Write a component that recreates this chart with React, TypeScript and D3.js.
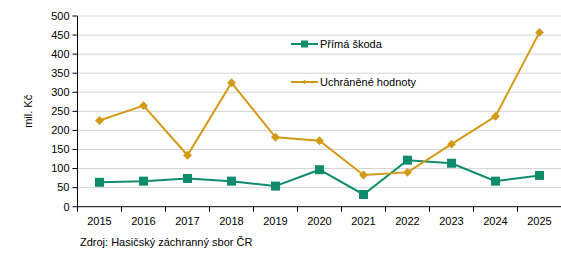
import React from "react";
import * as d3 from "d3";

const years = ["2015","2016","2017","2018","2019","2020","2021","2022","2023","2024","2025"];
const primaSkoda = [64, 67, 74, 67, 54, 97, 32, 122, 114, 67, 82];
const uchranene = [226, 265, 135, 325, 182, 173, 83, 90, 164, 237, 457];
const yTicks = [0, 50, 100, 150, 200, 250, 300, 350, 400, 450, 500];
const seriesNames = ["Přímá škoda", "Uchráněné hodnoty"];

const GREEN = "#0f8c6c";
const GOLD = "#d39a17";
const FONT = "'Liberation Sans', Arial, sans-serif";

export default function App() {
  const W = 561, H = 270;
  const left = 77.5, right = 561.5, top = 16, bottom = 206.7;
  const x = d3.scaleBand().domain(years).range([left, right]);
  const y = d3.scaleLinear().domain([0, 500]).range([bottom, top]);
  const cx = (d: string) => (x(d) as number) + x.bandwidth() / 2;
  const line = d3.line<number>().x((_, i) => cx(years[i])).y((v) => y(v));
  const tickXs = years.map((d) => x(d) as number).concat([right]);

  return (
    <svg width={W} height={H} style={{ position: "absolute", left: 0, top: 0 }} fontFamily={FONT}>
      {yTicks.filter((t) => t > 0).map((t) => (
        <line key={t} x1={left} x2={W} y1={y(t)} y2={y(t)} stroke="#d4d4d4" strokeWidth={1} />
      ))}
      <line x1={left} x2={left} y1={top} y2={bottom} stroke="#000" />
      <line x1={left} x2={W} y1={bottom} y2={bottom} stroke="#000" />
      {yTicks.map((t) => (
        <g key={t}>
          <line x1={left - 5} x2={left} y1={y(t)} y2={y(t)} stroke="#000" />
          <text x={left - 8} y={y(t)} dy="0.35em" textAnchor="end" fontSize={11}>{t}</text>
        </g>
      ))}
      {tickXs.map((tx, i) => (
        <line key={i} x1={tx} x2={tx} y1={bottom} y2={bottom + 5} stroke="#000" />
      ))}
      {years.map((d) => (
        <text key={d} x={cx(d)} y={221} dy="0.35em" textAnchor="middle" fontSize={11}>{d}</text>
      ))}
      <text transform={`translate(32,${y(250)}) rotate(-90)`} textAnchor="middle" fontSize={11}>mil. Kč</text>
      <text x={80} y={242} dy="0.35em" fontSize={11}>Zdroj: Hasičský záchranný sbor ČR</text>

      <path d={line(primaSkoda) || ""} fill="none" stroke={GREEN} strokeWidth={2} />
      {primaSkoda.map((v, i) => (
        <rect key={i} x={cx(years[i]) - 4.5} y={y(v) - 4.5} width={9} height={9} fill={GREEN} />
      ))}
      <path d={line(uchranene) || ""} fill="none" stroke={GOLD} strokeWidth={2} />
      {uchranene.map((v, i) => (
        <path key={i} d={d3.symbol(d3.symbolDiamond2, 50)() || ""} transform={`translate(${cx(years[i])},${y(v)})`} fill={GOLD} />
      ))}

      <line x1={291} x2={318} y1={44} y2={44} stroke={GREEN} strokeWidth={2} />
      <rect x={301} y={40.5} width={7} height={7} fill={GREEN} />
      <text x={320} y={44} dy="0.35em" fontSize={11}>{seriesNames[0]}</text>
      <line x1={291} x2={318} y1={82} y2={82} stroke={GOLD} strokeWidth={2} />
      <path d={d3.symbol(d3.symbolDiamond2, 12)() || ""} transform="translate(304.5,82)" fill={GOLD} />
      <text x={320} y={82} dy="0.35em" fontSize={11}>{seriesNames[1]}</text>
    </svg>
  );
}
